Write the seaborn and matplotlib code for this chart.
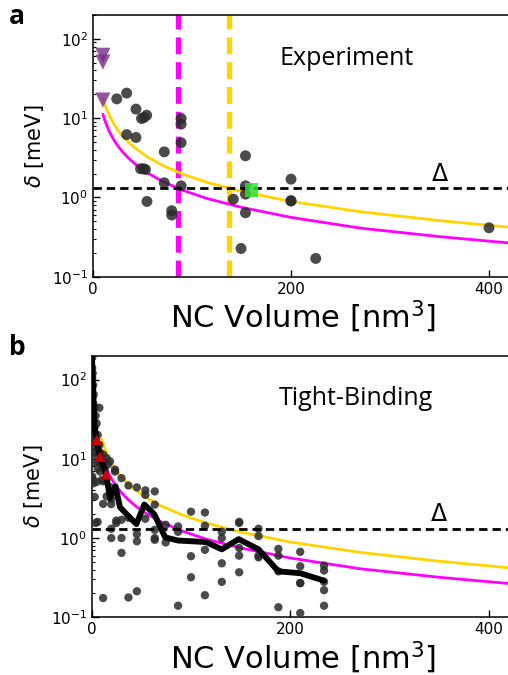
import numpy as np
import pandas as pd
import matplotlib
matplotlib.use("Agg")
import matplotlib.pyplot as plt
import seaborn as sns

# ---------------- data ----------------
exp_vol = [24, 34, 43.4, 34, 43.4, 49, 51.5, 54.2, 48, 51, 53, 54.5, 72, 72, 79.5, 79.5,
           89, 89, 89, 89, 141.7, 149.5, 154, 154, 154, 154, 200, 200, 200, 225, 400]
exp_gap = [17.5, 20.7, 13, 6.2, 5.7, 9.9, 10.2, 10.9, 2.3, 2.3, 2.25, 0.89, 3.76, 1.53, 0.68, 0.6,
           9.9, 8.4, 4.9, 1.4, 0.95, 0.227, 3.35, 1.40, 1.10, 0.64, 1.70, 0.9, 0.91, 0.17, 0.414]

upper_vol = [10, 10, 10]
upper_gap = [62, 51, 16.9]

green_vol = [160]
green_gap = [1.24]

curve_vol = [10, 12, 14, 17, 20, 25, 30, 37, 45, 55, 70, 90, 115, 150, 200, 270, 350, 430]
curve_gold = [17.8, 14.8, 12.7, 10.5, 8.9, 7.1, 5.9, 4.8, 3.96, 3.24, 2.54, 1.98, 1.55,
              1.19, 0.89, 0.66, 0.51, 0.41]
curve_magenta = [11.2, 9.33, 8.0, 6.59, 5.6, 4.48, 3.73, 3.03, 2.49, 2.04, 1.6, 1.24, 0.97,
                 0.75, 0.56, 0.41, 0.32, 0.26]

crit_vol_magenta = 86
crit_vol_gold = 137
delta_gap = 1.3

tb_vol = [0.5] * 5 + [1] * 5 + [1.5] * 5 + [2] * 4 + [3] * 5 + [4] * 3 + [5] * 3 + [6] * 4 + \
         [7.7] * 3 + [8.4] * 2 + [10] * 2 + [11.5] * 4 + [13] * 2 + [15] * 3 + [16.4] + [18.4] * 2 + \
         [19.7] * 4 + [23.5] * 2 + [24.8] * 2 + [30] * 4 + [37] * 3 + [45.5] * 4 + [54] * 3 + \
         [63.5] * 5 + [74.5] * 2 + [87] * 3 + [100] * 3 + [114] * 4 + [131] * 4 + [148.5] * 5 + \
         [168] * 4 + [188] * 4 + [210] * 5 + [234] * 5
tb_gap = [190, 140, 105, 75, 6.0,
          120, 60, 40, 28, 5.5,
          85, 50, 33, 22, 4.9,
          65, 30, 18, 12,
          45, 25, 16, 9, 3.3,
          35, 14, 1.55,
          28, 11, 5.1,
          20, 13, 7.5, 1.6,
          44, 15, 9,
          12, 6.9,
          8.5, 5.4,
          11.3, 5.2, 2.7, 0.175,
          9, 7.5,
          10.2, 5.5, 3.35,
          8.5,
          9.3, 4.4,
          3.1, 2.68, 1.31, 1.0,
          7.3, 6.9,
          1.66, 1.55,
          5.7, 1.7, 1.0, 0.65,
          4.6, 1.8, 0.178,
          4.36, 1.12, 0.91, 0.213,
          4.0, 3.5, 1.75,
          3.88, 2.64, 1.27, 1.0, 0.95,
          1.47, 0.88,
          1.4, 1.2, 0.14,
          2.15, 0.59, 0.32,
          2.1, 1.43, 0.71, 0.19,
          1.2, 1.0, 0.48, 0.28,
          1.6, 1.55, 0.75, 0.6, 0.37,
          1.31, 1.06, 0.6, 0.57,
          0.73, 0.6, 0.38, 0.134,
          0.67, 0.44, 0.27, 0.27, 0.113,
          0.45, 0.39, 0.28, 0.22, 0.14]

tb_avg_vol = [0.3, 1, 2, 3, 5, 8.4, 14.4, 18.4, 24, 28.5, 36, 45, 53, 63, 74, 87, 101, 115,
              131, 148, 168, 188, 210, 234]
tb_avg_gap = [200, 100, 45, 25, 17.4, 10.7, 6.4, 3.2, 4.5, 2.45, 1.95, 1.5, 2.65, 2.0, 1.02,
              0.93, 0.91, 0.89, 0.72, 0.97, 0.72, 0.38, 0.36, 0.29]

tb_red_vol = [5, 8.4, 14.4]
tb_red_gap = [17.4, 10.7, 6.4]

x_ticks = [0, 200, 400]
x_limits = (0, 425)
y_limits = (0.1, 200)
panel_titles = ["Experiment", "Tight-Binding"]
panel_letters = ["a", "b"]

# ---------------- style ----------------
sns.set_theme(style="ticks")
plt.rcParams["font.family"] = ["DejaVu Sans"]
plt.rcParams.update({
    "axes.linewidth": 1.1,
    "axes.edgecolor": "black",
    "axes.labelcolor": "black",
    "text.color": "black",
    "xtick.color": "black",
    "ytick.color": "black",
})

GOLD = "#FFD400"
MAGENTA = "#FF00FF"
PT_COLOR = "#2b2b2b"

fig = plt.figure(figsize=(5.08, 6.75), dpi=100)
ax_a = fig.add_axes([93 / 508, 1 - 276.7 / 675, 425 * 0.99 / 508, (276.7 - 15) / 675])
ax_b = fig.add_axes([91.7 / 508, 1 - 617.3 / 675, 425 * 0.993 / 508, (617.3 - 355.7) / 675])

curves = pd.DataFrame({"vol": curve_vol, "gold": curve_gold, "magenta": curve_magenta})


def style_axes(ax):
    ax.set_yscale("log")
    ax.set_xlim(*x_limits)
    ax.set_ylim(*y_limits)
    ax.set_xticks(x_ticks)
    ax.tick_params(axis="both", which="major", direction="in", length=5, width=1,
                   labelsize=11, top=False, right=False, colors="black")
    ax.tick_params(axis="y", which="minor", direction="in", length=2.5, width=0.8,
                   colors="black")
    ax.tick_params(axis="x", which="minor", bottom=False)
    ax.spines["right"].set_visible(False)
    ax.set_xlabel("NC Volume [nm$^3$]", fontsize=22, labelpad=2, color="black")
    ax.set_ylabel(r"$\delta$ [meV]", fontsize=15, labelpad=4, color="black")


for ax in (ax_a, ax_b):
    sns.lineplot(data=curves, x="vol", y="gold", ax=ax, color=GOLD, lw=2, sort=False,
                 estimator=None, zorder=2)
    sns.lineplot(data=curves, x="vol", y="magenta", ax=ax, color=MAGENTA, lw=2, sort=False,
                 estimator=None, zorder=2)
    ax.axhline(delta_gap, color="black", lw=2, dashes=(3, 1.8), zorder=5)

# ---- panel a ----
ax_a.axvline(crit_vol_magenta, color=MAGENTA, lw=3.8, dashes=(3.2, 1.5), zorder=1)
ax_a.axvline(crit_vol_gold, color=GOLD, lw=3.8, dashes=(3.2, 1.5), zorder=1)
sns.scatterplot(x=exp_vol, y=exp_gap, ax=ax_a, color=PT_COLOR, s=62, alpha=0.85,
                edgecolor="none", zorder=4)
sns.scatterplot(x=upper_vol, y=upper_gap, ax=ax_a, color="#7a2a88", marker="v", s=120,
                alpha=0.8, edgecolor="none", zorder=4)
sns.scatterplot(x=green_vol, y=green_gap, ax=ax_a, color="#2fe02f", marker="s", s=95,
                alpha=0.85, edgecolor="none", zorder=6)

# ---- panel b ----
sns.scatterplot(x=tb_vol, y=tb_gap, ax=ax_b, color=PT_COLOR, s=36, alpha=0.85,
                edgecolor="none", zorder=3)
sns.lineplot(x=tb_avg_vol, y=tb_avg_gap, ax=ax_b, color="black", lw=4.2, sort=False,
             estimator=None, zorder=6)
sns.scatterplot(x=tb_red_vol, y=tb_red_gap, ax=ax_b, color="#cc0000", marker="^", s=60,
                edgecolor="none", zorder=7)

for ax, title, letter in zip((ax_a, ax_b), panel_titles, panel_letters):
    style_axes(ax)
    ax.text(188, 57, title, fontsize=18, family=["Open Sans", "DejaVu Sans"],
            ha="left", va="center", color="black")
    ax.text(350, 2.0, r"$\Delta$", fontsize=17, ha="center", va="center", color="black")

fig.text(17 / 508, 1 - 17 / 675, panel_letters[0], fontsize=19, fontweight="bold",
         family=["Open Sans", "DejaVu Sans"], ha="center", va="center", color="black")
fig.text(17 / 508, 1 - 347 / 675, panel_letters[1], fontsize=19, fontweight="bold",
         family=["Open Sans", "DejaVu Sans"], ha="center", va="center", color="black")

fig.savefig("out.png", dpi=100)
